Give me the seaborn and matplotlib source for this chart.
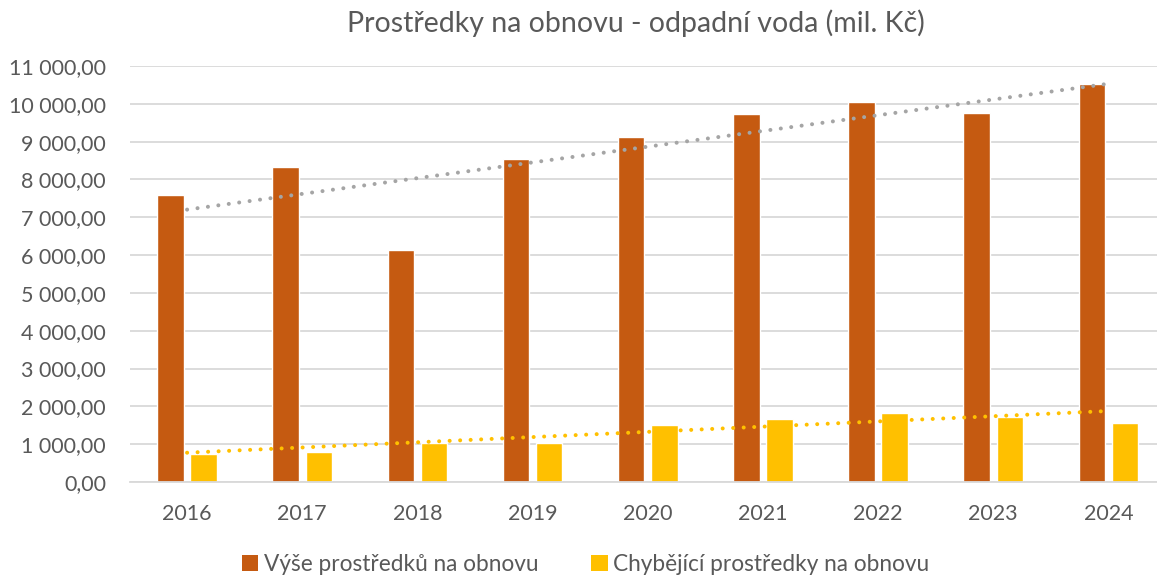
import numpy as np
import pandas as pd
import matplotlib
matplotlib.use("Agg")
import matplotlib.pyplot as plt
import seaborn as sns
from matplotlib.ticker import FuncFormatter, MultipleLocator
from matplotlib.patches import Patch

# Data (mil. Kč)
years = ["2016", "2017", "2018", "2019", "2020", "2021", "2022", "2023", "2024"]
vyse = [7600, 8330, 6140, 8545, 9130, 9740, 10040, 9745, 10530]
chybejici = [750, 800, 1040, 1030, 1520, 1670, 1830, 1730, 1565]
series_names = ["Výše prostředků na obnovu", "Chybějící prostředky na obnovu"]

bar_colors = ["#C55A11", "#FFC000"]
trend_colors = ["#A5A5A5", "#FFC000"]
text_color = "#595959"
grid_color = "#D9D9D9"

df = pd.DataFrame({"rok": years, series_names[0]: vyse, series_names[1]: chybejici})
long = df.melt(id_vars="rok", var_name="serie", value_name="hodnota")

sns.set_theme(style="white")
plt.rcParams["font.family"] = ["Lato", "DejaVu Sans"]

fig = plt.figure(figsize=(11.57, 5.78), dpi=100)
ax = fig.add_axes([129.5 / 1157, 96 / 578, 1036.5 / 1157, 416 / 578])

sns.barplot(data=long, x="rok", y="hodnota", hue="serie", palette=bar_colors,
            width=0.575, gap=0.2, saturation=1, ax=ax, legend=False, zorder=2)

# linear trendlines
xs = np.arange(len(years))
for vals, col in zip([vyse, chybejici], trend_colors):
    k, q = np.polyfit(xs, vals, 1)
    ax.plot(xs, k * xs + q, color=col, lw=2.9, linestyle=(0, (0.01, 2.6)),
            dash_capstyle="round", zorder=3)

ax.set_xlim(-0.5, 8.5)
ax.set_ylim(0, 11000)
ax.yaxis.set_major_locator(MultipleLocator(1000))
ax.yaxis.set_major_formatter(FuncFormatter(
    lambda v, p: f"{v:,.2f}".replace(",", " ").replace(".", ",")))
ax.grid(axis="y", color=grid_color, lw=1.3, zorder=0)
ax.set_axisbelow(True)
for s in ["top", "right", "left"]:
    ax.spines[s].set_visible(False)
ax.spines["bottom"].set_color(grid_color)
ax.spines["bottom"].set_linewidth(1.3)
ax.tick_params(axis="y", length=0, pad=17, labelsize=15.5, labelcolor=text_color)
ax.tick_params(axis="x", length=0, pad=16, labelsize=15.5, labelcolor=text_color)
ax.set_xlabel("")
ax.set_ylabel("")

fig.text(0.55, 0.96, "Prostředky na obnovu - odpadní voda (mil. Kč)",
         ha="center", va="center", fontsize=20.5, color=text_color)

handles = [Patch(facecolor=c, edgecolor="none") for c in bar_colors]
fig.legend(handles, series_names, loc="center", bbox_to_anchor=(0.506, 0.024),
           ncol=2, frameon=False, fontsize=16.3, labelcolor=text_color,
           handlelength=0.72, handleheight=0.72, handletextpad=0.25,
           columnspacing=2.35)

fig.savefig("out.png", dpi=100)
